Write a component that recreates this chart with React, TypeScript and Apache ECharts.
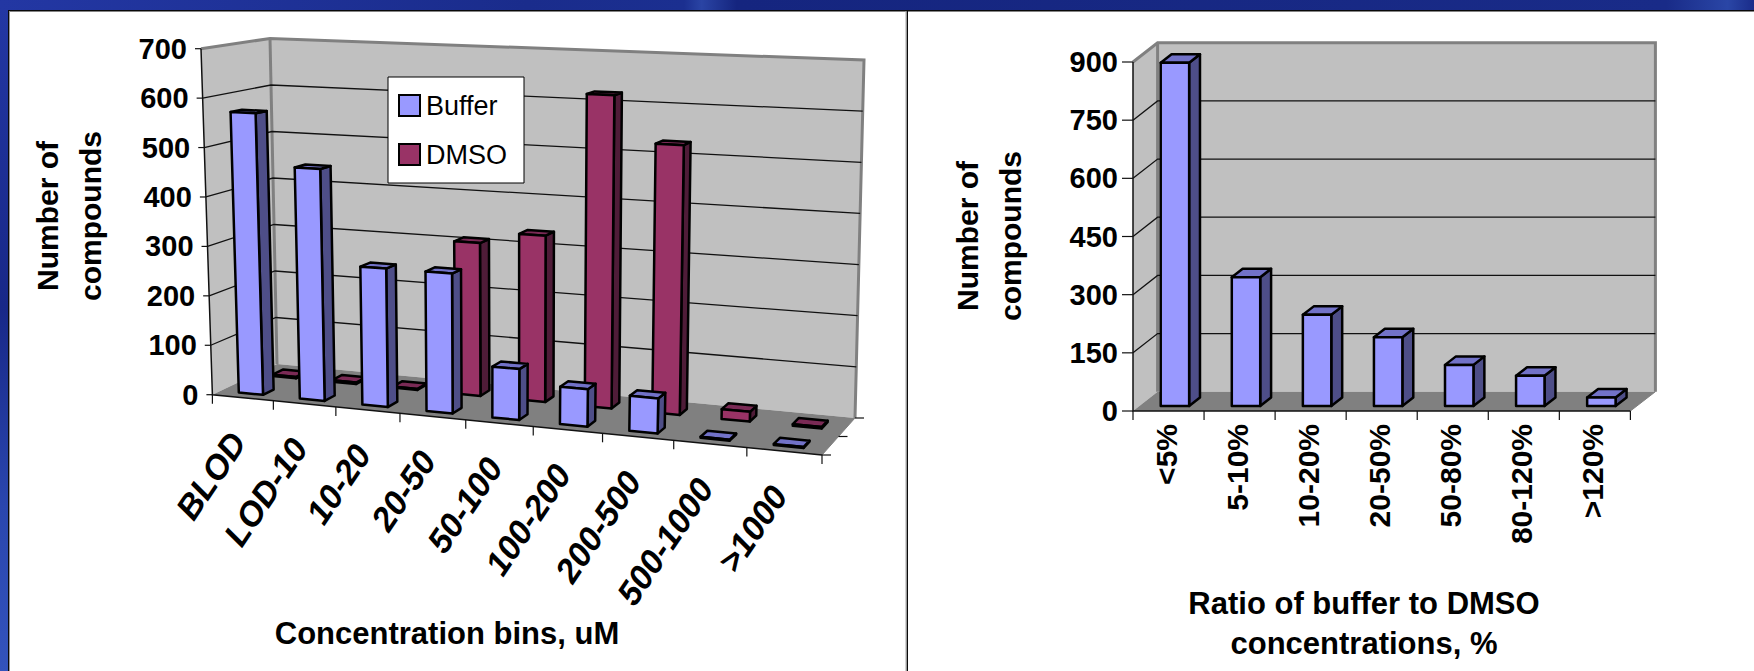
import React, { useEffect, useRef } from "react";
import * as echarts from "echarts";

// Solubility histograms: concentration bins and buffer/DMSO ratio
const binLabels = ["BLOD", "LOD-10", "10-20", "20-50", "50-100", "100-200", "200-500", "500-1000", ">1000"];
const bufferCounts = [570, 465, 275, 275, 99, 72, 67, 2, 2];
const dmsoCounts = [3, 3, 2, 310, 334, 622, 530, 19, 3];
const binTicks = [0, 100, 200, 300, 400, 500, 600, 700];

const ratioLabels = ["<5%", "5-10%", "10-20%", "20-50%", "50-80%", "80-120%", ">120%"];
const ratioCounts = [885, 332, 235, 177, 106, 78, 22];
const ratioTicks = [0, 150, 300, 450, 600, 750, 900];

type Pt = number[];
const FONT = '"Liberation Sans", Arial, sans-serif';
const lerp = (a: Pt, b: Pt, f: number): Pt => [a[0] + (b[0] - a[0]) * f, a[1] + (b[1] - a[1]) * f];

interface Box {
  fl0: Pt; fr0: Pt; bl0: Pt; br0: Pt;
  fl1: Pt; fr1: Pt; bl1: Pt; br1: Pt;
  k: number; // foreshortening along the category direction
}

// Perspective box holding the left chart
const boxA: Box = {
  fl0: [212.4, 394.7], fr0: [822, 455], bl0: [277, 364], br0: [855, 418],
  fl1: [201, 48.7], fr1: [836, 75], bl1: [270, 38.5], br1: [864, 60],
  k: 1.125,
};
// Oblique box holding the right chart
const boxB: Box = {
  fl0: [1133, 411], fr0: [1630.4, 411], bl0: [1157.6, 391.7], br0: [1655.4, 391.7],
  fl1: [1133, 62], fr1: [1630.4, 62], bl1: [1157.6, 42.7], br1: [1655.4, 42.7],
  k: 1,
};

// s: along categories, t: up the value scale, d: into the depth of the box
const project = (b: Box, s: number, t: number, d: number): Pt => {
  const u = s / (s + b.k * (1 - s));
  const low = lerp(lerp(b.fl0, b.fr0, u), lerp(b.bl0, b.br0, u), d);
  const high = lerp(lerp(b.fl1, b.fr1, u), lerp(b.bl1, b.br1, u), d);
  return lerp(low, high, t);
};

const line = (points: Pt[], stroke: string, lineWidth: number) => ({
  type: "polyline",
  silent: true,
  shape: { points },
  style: { fill: "none", stroke, lineWidth },
});
const face = (points: Pt[], fill: string, stroke: string | null = null, lineWidth = 0) => ({
  type: "polygon",
  silent: true,
  shape: { points },
  style: { fill, stroke: stroke ?? "none", lineWidth, lineJoin: "round" },
});

const palette = {
  buffer: { front: "#9999FF", top: "#7272C8", side: "#4E4E88" },
  dmso: { front: "#993366", top: "#7A2A55", side: "#4F1C38" },
};

const barSeries = (
  name: string,
  values: number[],
  box: Box,
  colors: { front: string; top: string; side: string },
  d0: number,
  d1: number,
  axis: number,
) => ({
  type: "custom",
  name,
  xAxisIndex: axis,
  yAxisIndex: axis,
  encode: { x: 0, y: 1 },
  data: values.map((v, i) => [i, v]),
  itemStyle: { color: colors.front, borderColor: "#000", borderWidth: 2.5 },
  renderItem: (params: any, api: any) => {
    const i = api.value(0);
    const c = api.coord([i, api.value(1)]);
    const band = api.size([1, 0])[0];
    const cs = params.coordSys;
    const s0 = (c[0] - band * 0.2 - cs.x) / cs.width;
    const s1 = (c[0] + band * 0.2 - cs.x) / cs.width;
    const t = (cs.y + cs.height - c[1]) / cs.height;
    const P = (s: number, h: number, d: number) => project(box, s, h, d);
    return {
      type: "group",
      children: [
        face([P(s1, 0, d0), P(s1, 0, d1), P(s1, t, d1), P(s1, t, d0)], colors.side, "#000", 2.5),
        face([P(s0, t, d0), P(s1, t, d0), P(s1, t, d1), P(s0, t, d1)], colors.top, "#000", 2.5),
        face([P(s0, 0, d0), P(s1, 0, d0), P(s1, t, d0), P(s0, t, d0)], colors.front, "#000", 2.5),
      ],
    };
  },
});

const wallSeries = (box: Box, axis: number, depthTicks: number[]) => ({
  type: "custom",
  xAxisIndex: axis,
  yAxisIndex: axis,
  encode: { x: 0, y: 1 },
  data: [[0, 0]],
  renderItem: () => {
    const P = (s: number, t: number, d: number) => project(box, s, t, d);
    return {
      type: "group",
      children: [
        face([P(0, 0, 0), P(0, 0, 1), P(0, 1, 1), P(0, 1, 0)], "#C0C0C0"),
        face([P(0, 0, 1), P(1, 0, 1), P(1, 1, 1), P(0, 1, 1)], "#C0C0C0"),
        face([P(0, 0, 0), P(1, 0, 0), P(1, 0, 1), P(0, 0, 1)], "#808080"),
        line([P(0, 1, 0), P(0, 1, 1), P(1, 1, 1), P(1, 0, 1)], "#808080", 3),
        line([P(0, 1, 1), P(0, 0, 1)], "#808080", 3),
        line([P(1, 0, 1), P(1, 0, 0)], "#808080", 1),
        line([P(0, 1, 0), P(0, 0, 0), P(1, 0, 0)], "#111", 1.5),
        ...depthTicks.map((d) => {
          const p = P(1, 0, d);
          return line([p, [p[0] + 9, p[1]]], "#111", 1.2);
        }),
      ],
    };
  },
});

const gridSeries = (box: Box, ticks: number[], axis: number, tickLen: number, gap: number) => ({
  type: "custom",
  xAxisIndex: axis,
  yAxisIndex: axis,
  encode: { x: 0, y: 1 },
  data: ticks.map((v) => [0, v]),
  renderItem: (params: any, api: any) => {
    const v = api.value(1);
    const c = api.coord([0, v]);
    const cs = params.coordSys;
    const t = (cs.y + cs.height - c[1]) / cs.height;
    const a = project(box, 0, t, 0);
    const inner = t > 0.001 && t < 0.999;
    const wall = inner ? [a, project(box, 0, t, 1), project(box, 1, t, 1)] : [a, a];
    return {
      type: "group",
      children: [
        line([[a[0] - tickLen, a[1]], a], "#111", 1.2),
        line(wall, "#111", 1.3),
        {
          type: "text",
          silent: true,
          x: a[0] - tickLen - gap,
          y: a[1],
          style: {
            text: String(v),
            fill: "#000",
            fontFamily: FONT,
            fontWeight: "bold",
            fontSize: 29,
            align: "right",
            verticalAlign: "middle",
          },
        },
      ],
    };
  },
});

const categorySeries = (
  box: Box,
  labels: string[],
  axis: number,
  angle: number,
  italic: boolean,
  fontSize: number,
  place: (mid: Pt) => Pt,
) => ({
  type: "custom",
  xAxisIndex: axis,
  yAxisIndex: axis,
  encode: { x: 0, y: 1 },
  data: labels.map((_, i) => [i, 0]),
  renderItem: (params: any, api: any) => {
    const i = api.value(0);
    const c = api.coord([i, 0]);
    const band = api.size([1, 0])[0];
    const cs = params.coordSys;
    const sOf = (x: number) => (x - cs.x) / cs.width;
    const l = project(box, sOf(c[0] - band / 2), 0, 0);
    const r = project(box, sOf(c[0] + band / 2), 0, 0);
    const m = project(box, sOf(c[0]), 0, 0);
    const at = place(m);
    const ticks = [line([l, [l[0], l[1] + 9]], "#111", 1.2)];
    if (i === labels.length - 1) ticks.push(line([r, [r[0], r[1] + 9]], "#111", 1.2));
    return {
      type: "group",
      children: [
        ...ticks,
        {
          type: "text",
          silent: true,
          x: at[0],
          y: at[1],
          rotation: angle,
          style: {
            text: labels[i],
            fill: "#000",
            fontFamily: FONT,
            fontWeight: "bold",
            fontStyle: italic ? "italic" : "normal",
            fontSize,
            align: "right",
            verticalAlign: "middle",
          },
        },
      ],
    };
  },
});

const caption = (text: string, x: number, y: number, rotation = 0, fontSize = 30) => ({
  type: "text",
  x,
  y,
  rotation,
  silent: true,
  style: {
    text,
    fill: "#000",
    fontFamily: FONT,
    fontWeight: "bold",
    fontSize,
    lineHeight: rotation ? 43 : 40,
    align: "center",
    verticalAlign: "middle",
  },
});

const buildOption = () => ({
  animation: false,
  grid: [
    { left: 212, top: 49, width: 610, height: 346 },
    { left: 1133, top: 62, width: 497, height: 349 },
  ],
  xAxis: [
    { type: "category", gridIndex: 0, data: binLabels, show: false },
    { type: "category", gridIndex: 1, data: ratioLabels, show: false },
  ],
  yAxis: [
    { type: "value", gridIndex: 0, min: 0, max: 700, interval: 100, show: false },
    { type: "value", gridIndex: 1, min: 0, max: 900, interval: 150, show: false },
  ],
  legend: {
    data: ["Buffer", "DMSO"],
    orient: "vertical",
    left: 388,
    top: 77,
    backgroundColor: "#fff",
    borderColor: "#000",
    borderWidth: 1,
    padding: [15, 17, 15, 10],
    itemWidth: 21,
    itemHeight: 21,
    itemGap: 22,
    icon: "rect",
    selectedMode: false,
    textStyle: { fontFamily: FONT, fontSize: 27, color: "#000", padding: [0, 0, 0, 1] },
  },
  graphic: {
    elements: [
      {
        type: "rect",
        silent: true,
        shape: { x: 0, y: 0, width: 1754, height: 10 },
        style: {
          fill: new echarts.graphic.LinearGradient(0, 0, 1, 0, [
            { offset: 0, color: "#2337A3" },
            { offset: 0.3, color: "#1A2C8C" },
            { offset: 0.39, color: "#1B2F90" },
            { offset: 0.4, color: "#2A44A4" },
            { offset: 0.42, color: "#15257F" },
            { offset: 0.95, color: "#192B88" },
            { offset: 0.985, color: "#2A46A6" },
            { offset: 1, color: "#1A2C8A" },
          ]),
        },
      },
      {
        type: "rect",
        silent: true,
        shape: { x: 0, y: 10, width: 8, height: 661 },
        style: {
          fill: new echarts.graphic.LinearGradient(0, 0, 0, 1, [
            { offset: 0, color: "#2337A3" },
            { offset: 0.45, color: "#182888" },
            { offset: 0.75, color: "#2A46AE" },
            { offset: 1, color: "#3353BC" },
          ]),
        },
      },
      { type: "rect", silent: true, shape: { x: 8, y: 10, width: 1746, height: 661 }, style: { fill: "#fff" } },
      { type: "rect", silent: true, shape: { x: 8, y: 10, width: 1746, height: 1.5 }, style: { fill: "#0a0a0a" } },
      { type: "rect", silent: true, shape: { x: 8, y: 10, width: 1, height: 661 }, style: { fill: "#0a0a0a" } },
      { type: "rect", silent: true, shape: { x: 9, y: 11, width: 1, height: 660 }, style: { fill: "#999" } },
      { type: "rect", silent: true, shape: { x: 906.5, y: 10, width: 1.5, height: 661 }, style: { fill: "#0a0a0a" } },
      { type: "rect", silent: true, shape: { x: 905.5, y: 11, width: 1, height: 660 }, style: { fill: "#aaa" } },
      caption("Number of\ncompounds", 69, 216, Math.PI / 2),
      caption("Concentration bins, uM", 447, 633, 0, 31),
      caption("Number of\ncompounds", 989, 236, Math.PI / 2),
      caption("Ratio of buffer to DMSO\nconcentrations, %", 1364, 623, 0, 31),
    ],
  },
  series: [
    wallSeries(boxA, 0, [0, 0.5, 1]),
    gridSeries(boxA, binTicks, 0, 6, 8),
    categorySeries(boxA, binLabels, 0, (56 * Math.PI) / 180, true, 34, (m) => [m[0] - 5, m[1] + 38]),
    barSeries("DMSO", dmsoCounts, boxA, palette.dmso, 0.66, 0.83, 0),
    barSeries("Buffer", bufferCounts, boxA, palette.buffer, 0.13, 0.3, 0),

    wallSeries(boxB, 1, []),
    gridSeries(boxB, ratioTicks, 1, 11, 4),
    categorySeries(boxB, ratioLabels, 1, Math.PI / 2, false, 30, (m) => [m[0] - 2, 424]),
    barSeries("Ratio", ratioCounts, boxB, palette.buffer, 0.26, 0.7, 1),
  ],
});

export default function App() {
  const ref = useRef<HTMLDivElement>(null);
  useEffect(() => {
    document.body.style.margin = "0";
    const chart = echarts.init(ref.current!, undefined, { renderer: "svg" });
    chart.setOption(buildOption() as any);
    return () => chart.dispose();
  }, []);
  return <div ref={ref} style={{ width: 1754, height: 671, overflow: "hidden" }} />;
}
